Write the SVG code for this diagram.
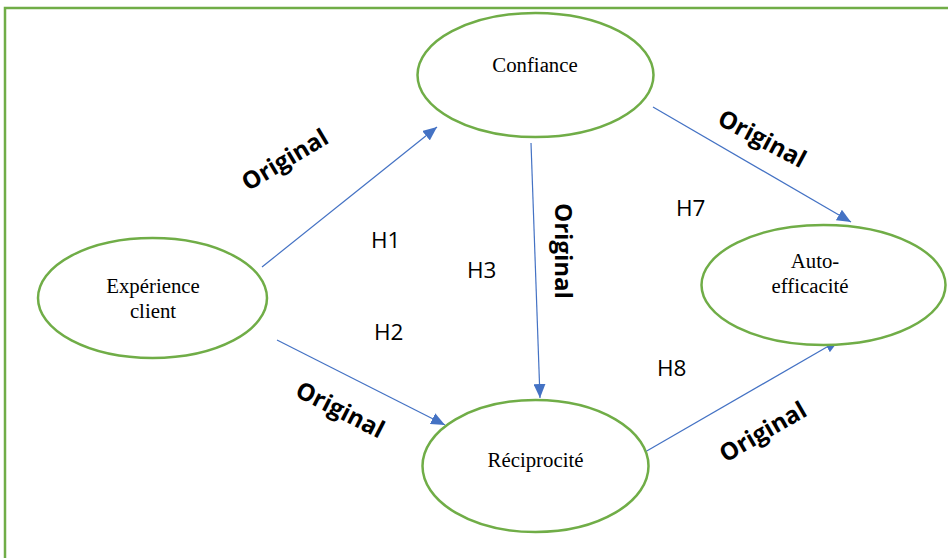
<svg xmlns="http://www.w3.org/2000/svg" width="948" height="558" viewBox="0 0 948 558">
  <style>
    .frame { fill: none; stroke: #70AD47; stroke-width: 2.5; }
    .node ellipse { fill: #FFFFFF; stroke: #70AD47; stroke-width: 2.5; }
    .node text { font-family: "Liberation Serif", "Times New Roman", serif; font-size: 20.8px; fill: #000000; text-anchor: middle; }
    .link { fill: none; stroke: #4472C4; stroke-width: 1.2; marker-end: url(#arrow); }
    .hyp { font-family: "Open Sans", "Liberation Sans", sans-serif; font-size: 22.5px; fill: #000000; }
    .tag { font-family: "Open Sans", "Liberation Sans", sans-serif; font-size: 24px; font-weight: bold; fill: #000000; text-anchor: middle; }
  </style>
  <defs>
    <marker id="arrow" markerUnits="userSpaceOnUse" markerWidth="14" markerHeight="12" viewBox="0 0 14 12" refX="14" refY="6" orient="auto">
      <path d="M0,0 L14,6 L0,12 Z" fill="#4472C4"/>
    </marker>
  </defs>

  <rect width="948" height="558" fill="#FFFFFF"/>
  <!-- outer frame (right and bottom edges run off the canvas) -->
  <rect class="frame" x="5" y="8" width="960" height="570"/>

  <!-- connectors -->
  <g id="connectors">
    <line class="link" x1="262" y1="267" x2="437" y2="127"/>
    <line class="link" x1="277" y1="340" x2="445" y2="425"/>
    <line class="link" x1="531" y1="143" x2="540" y2="398"/>
    <line class="link" x1="653" y1="107" x2="851" y2="222"/>
    <line class="link" x1="645" y1="452" x2="839" y2="340"/>
  </g>

  <!-- nodes -->
  <g id="confiance" class="node">
    <ellipse cx="535.5" cy="75" rx="118" ry="62"/>
    <text x="535" y="72">Confiance</text>
  </g>
  <g id="experience-client" class="node">
    <ellipse cx="152.5" cy="298" rx="114.5" ry="60"/>
    <text x="153" y="293">Expérience</text>
    <text x="153" y="318">client</text>
  </g>
  <g id="auto-efficacite" class="node">
    <ellipse cx="823.5" cy="285" rx="122" ry="60"/>
    <text x="815" y="268">Auto-</text>
    <text x="810" y="293">efficacité</text>
  </g>
  <g id="reciprocite" class="node">
    <ellipse cx="535.5" cy="466" rx="113" ry="66"/>
    <text x="535.5" y="467">Réciprocité</text>
  </g>

  <!-- hypothesis labels -->
  <g id="hypotheses">
    <text class="hyp" x="371" y="248">H1</text>
    <text class="hyp" x="374" y="340">H2</text>
    <text class="hyp" x="467" y="278">H3</text>
    <text class="hyp" x="676" y="216">H7</text>
    <text class="hyp" x="657" y="376">H8</text>
  </g>

  <!-- path tags -->
  <g id="tags">
    <text class="tag" transform="translate(285,160) rotate(-31)" y="8">Original</text>
    <text class="tag" transform="translate(340,410) rotate(27)" y="8">Original</text>
    <text class="tag" transform="translate(563,251) rotate(90)" y="8">Original</text>
    <text class="tag" transform="translate(762,139) rotate(28)" y="8">Original</text>
    <text class="tag" transform="translate(763,432) rotate(-30)" y="8">Original</text>
  </g>
</svg>
